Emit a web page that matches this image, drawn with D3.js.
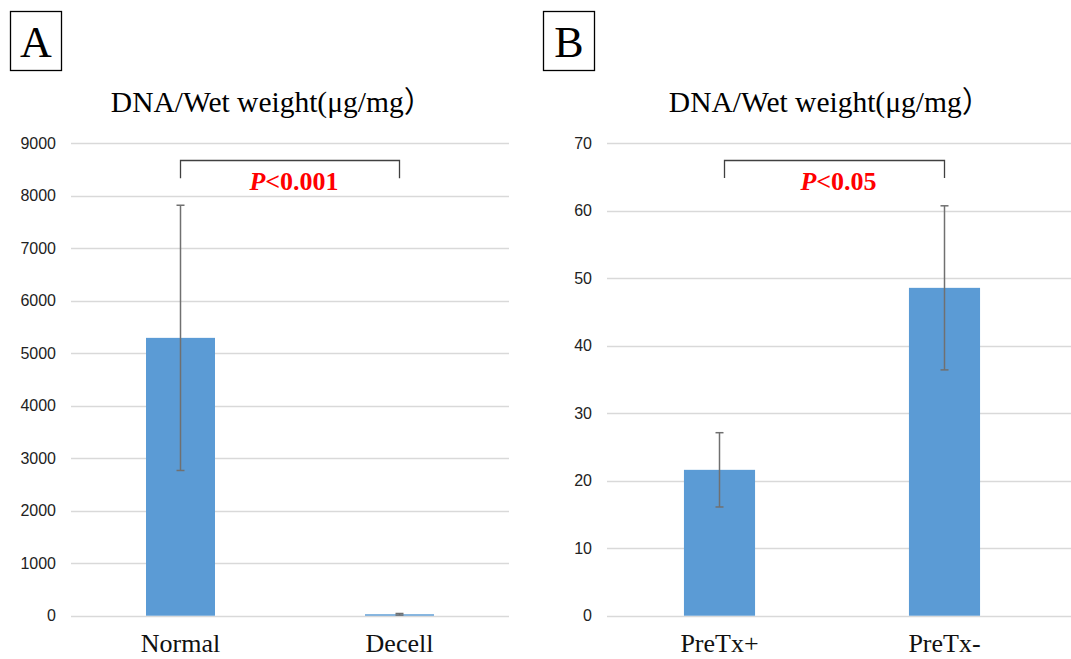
<!DOCTYPE html>
<html>
<head>
<meta charset="utf-8">
<script src="https://cdn.jsdelivr.net/npm/d3@7"></script>
<style>
  body { margin: 0; background: #fff; }
  svg { display: block; }
</style>
</head>
<body>
<div id="chart"></div>
<script>
// Panel A
const catsA = ["Normal", "Decell"];
const meansA = [5290, 27];
const errsA = [2525, 15];
const ticksA = [0, 1000, 2000, 3000, 4000, 5000, 6000, 7000, 8000, 9000];
const bracketA = [8670, 8330]; // top, ends
const pTextA = "<0.001";

// Panel B
const catsB = ["PreTx+", "PreTx-"];
const meansB = [21.6, 48.55];
const errsB = [5.5, 12.15];
const ticksB = [0, 10, 20, 30, 40, 50, 60, 70];
const bracketB = [67.5, 64.8];
const pTextB = "<0.05";

const width = 1071;
const height = 659;

const svg = d3.select("#chart")
    .append("svg")
    .attr("width", width)
    .attr("height", height);

function drawPanel(opt) {
    const g = svg.append("g");

    const x = d3.scaleBand()
        .domain(opt.cats)
        .range([opt.x0, opt.x1])
        .paddingInner(opt.pad)
        .paddingOuter(opt.pad / 2);

    const y = d3.scaleLinear()
        .domain([0, d3.max(opt.ticks)])
        .range([615.7, 143]);

    // panel letter box
    g.append("rect")
        .attr("x", opt.boxX + 0.5).attr("y", 11.5)
        .attr("width", 51).attr("height", 59)
        .attr("fill", "none").attr("stroke", "#000").attr("stroke-width", 1.3);
    g.append("text")
        .attr("x", opt.boxX + 26).attr("y", 57)
        .attr("text-anchor", "middle")
        .attr("font-family", "Liberation Serif, serif")
        .attr("font-size", 44)
        .text(opt.letter);

    // title
    g.append("text")
        .attr("x", opt.titleX).attr("y", 112)
        .attr("text-anchor", "middle")
        .attr("font-family", "Liberation Serif, 'Noto Sans CJK JP', serif")
        .attr("font-size", 29.5)
        .text("DNA/Wet weight(\u03BCg/mg\uFF09");

    // gridlines
    g.selectAll(".grid")
        .data(opt.ticks)
        .join("line")
        .attr("x1", opt.x0).attr("x2", opt.gridEnd)
        .attr("y1", d => Math.round(y(d)) + 0.5)
        .attr("y2", d => Math.round(y(d)) + 0.5)
        .attr("stroke", "#d9d9d9").attr("stroke-width", 1.3);

    // tick labels
    g.selectAll(".tick")
        .data(opt.ticks)
        .join("text")
        .attr("x", opt.tickX)
        .attr("y", d => y(d))
        .attr("dy", "0.35em")
        .attr("text-anchor", "end")
        .attr("font-family", "Liberation Sans, Arial, sans-serif")
        .attr("font-size", 16)
        .attr("fill", "#222")
        .text(d => d);

    // bars
    g.selectAll(".bar")
        .data(opt.cats)
        .join("rect")
        .attr("x", d => x(d))
        .attr("width", x.bandwidth())
        .attr("y", (d, i) => y(opt.means[i]))
        .attr("height", (d, i) => y(0) - y(opt.means[i]))
        .attr("fill", "#5b9bd5");

    // error bars
    const cx = d => x(d) + x.bandwidth() / 2;
    g.selectAll(".err")
        .data(opt.cats)
        .join("line")
        .attr("x1", cx).attr("x2", cx)
        .attr("y1", (d, i) => y(opt.means[i] + opt.errs[i]))
        .attr("y2", (d, i) => y(opt.means[i] - opt.errs[i]))
        .attr("stroke", "#707070").attr("stroke-width", 1.5);
    [1, -1].forEach(s => {
        g.selectAll(".cap" + s)
            .data(opt.cats)
            .join("line")
            .attr("x1", d => cx(d) - 4).attr("x2", d => cx(d) + 4)
            .attr("y1", (d, i) => y(opt.means[i] + s * opt.errs[i]))
            .attr("y2", (d, i) => y(opt.means[i] + s * opt.errs[i]))
            .attr("stroke", "#707070").attr("stroke-width", 1.5);
    });

    // category labels
    g.selectAll(".cat")
        .data(opt.cats)
        .join("text")
        .attr("x", cx)
        .attr("y", 652)
        .attr("text-anchor", "middle")
        .attr("font-family", "Liberation Serif, serif")
        .attr("font-size", 26)
        .attr("fill", "#111")
        .text(d => d);

    // significance bracket
    const bx1 = cx(opt.cats[0]) + opt.bracketShift;
    const bx2 = cx(opt.cats[1]);
    const yt = Math.round(y(opt.bracket[0])) + 0.5;
    const yb = y(opt.bracket[1]);
    g.append("path")
        .attr("d", `M${bx1},${yb}V${yt}H${bx2}V${yb}`)
        .attr("fill", "none").attr("stroke", "#404040").attr("stroke-width", 1.3);

    const t = g.append("text")
        .attr("x", (bx1 + bx2) / 2 + 4)
        .attr("y", 190)
        .attr("text-anchor", "middle")
        .attr("font-family", "Liberation Serif, serif")
        .attr("font-size", 26)
        .attr("font-weight", "bold")
        .attr("fill", "#ff0000");
    t.append("tspan").attr("font-style", "italic").text("P");
    t.append("tspan").text(opt.pText);
}

drawPanel({
    letter: "A", boxX: 10, titleX: 272,
    cats: catsA, means: meansA, errs: errsA, ticks: ticksA,
    bracket: bracketA, pText: pTextA, bracketShift: 0,
    x0: 71, x1: 509, gridEnd: 509, pad: 0.685, tickX: 56
});

drawPanel({
    letter: "B", boxX: 543, titleX: 830,
    cats: catsB, means: meansB, errs: errsB, ticks: ticksB,
    bracket: bracketB, pText: pTextB, bracketShift: 5,
    x0: 607, x1: 1057, gridEnd: 1071, pad: 0.684, tickX: 592
});
</script>
</body>
</html>
